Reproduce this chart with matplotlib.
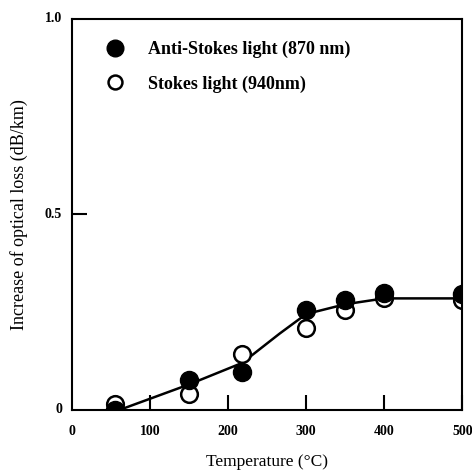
import matplotlib
matplotlib.use('Agg')
import matplotlib.pyplot as plt

# temperatures (deg C) of the measured points
temps = [55, 150, 218, 300, 350, 400, 500]
# increase of optical loss (dB/km)
anti_stokes = [0.0, 0.077, 0.097, 0.256, 0.28, 0.30, 0.295]
stokes = [0.015, 0.04, 0.143, 0.21, 0.256, 0.285, 0.28]

# hand-drawn trend curve
curve_t = [68, 150, 218, 266, 300, 350, 400, 500]
curve_y = [0.005, 0.065, 0.12, 0.195, 0.245, 0.27, 0.285, 0.285]

x_ticks = [100, 200, 300, 400, 500]
x_labels = ['0', '100', '200', '300', '400', '500']
y_labels = ['0', '0.5', '1.0']

plt.rcParams['font.family'] = ['Liberation Serif', 'DejaVu Serif']

fig = plt.figure(figsize=(4.72, 4.70), dpi=100)
ax = fig.add_axes([0.1525, 0.128, 0.827, 0.832])

ax.plot(curve_t, curve_y, color='black', lw=1.8, zorder=1)
ax.plot(temps, anti_stokes, 'o', ms=13, color='black', mec='black',
        label='Anti-Stokes light (870 nm)', zorder=3)
ax.plot(temps, stokes, 'o', ms=12, mfc='white', mec='black', mew=1.8,
        label='Stokes light (940nm)', zorder=2)

ax.set_xlim(0, 500)
ax.set_ylim(0, 1.0)

# inward tick marks only where the original has them
ax.set_xticks(x_ticks)
ax.set_xticklabels([])
ax.set_yticks([0.5])
ax.set_yticklabels([])
ax.tick_params(direction='in', length=11, width=1.5)

# tick labels placed as text so 0 / 1.0 have no tick marks
for i, lab in enumerate(x_labels):
    ax.text(i * 100, -0.04, lab, ha='center', va='top', fontsize=10,
            fontweight='bold')
for i, lab in enumerate(y_labels):
    ax.text(-0.025, i * 0.5, lab, ha='right', va='center', fontsize=10,
            fontweight='bold', transform=ax.get_yaxis_transform())

for s in ax.spines.values():
    s.set_linewidth(1.5)

ax.set_xlabel('Temperature (°C)', fontsize=12.5, labelpad=28)
ax.set_ylabel('Increase of optical loss (dB/km)', fontsize=13, labelpad=28)

leg = ax.legend(loc='center left', bbox_to_anchor=(0.04, 0.877), frameon=False,
                handletextpad=1.25, labelspacing=0.95, handlelength=1.2,
                prop={'weight': 'bold', 'size': 13})
leg.legend_handles[0].set_markersize(12)
leg.legend_handles[1].set_markersize(10)

fig.savefig('out.png', dpi=100)
